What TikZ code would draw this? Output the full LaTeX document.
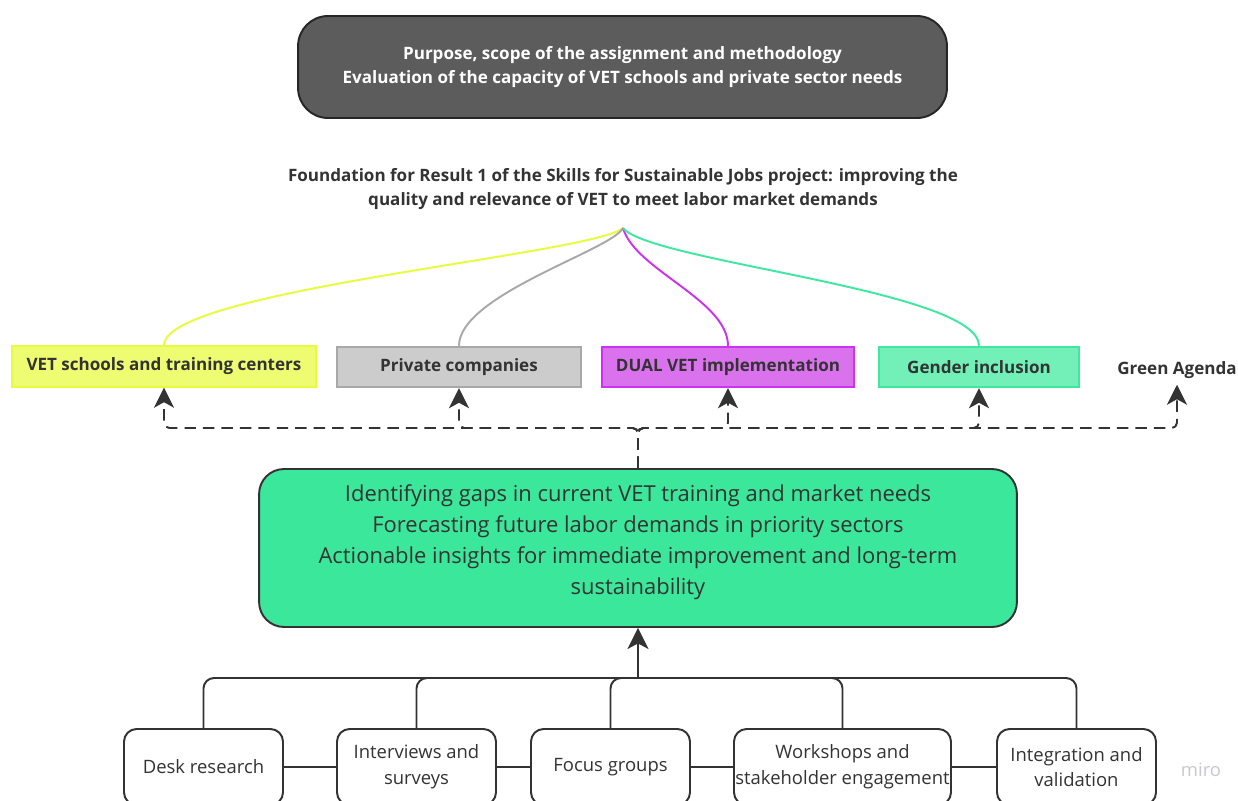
\documentclass[tikz,border=0pt]{standalone}
\usepackage{fontspec}
\setmainfont{Open Sans}
\usetikzlibrary{arrows.meta,positioning,calc}
\definecolor{Ink}{HTML}{333333}
\definecolor{Slate}{HTML}{5C5C5C}
\definecolor{Lime}{HTML}{EEFC72}
\definecolor{LimeRule}{HTML}{E6FC3C}
\definecolor{Stone}{HTML}{CCCCCC}
\definecolor{StoneRule}{HTML}{A8A8A8}
\definecolor{Orchid}{HTML}{DA72EE}
\definecolor{OrchidRule}{HTML}{CC33EE}
\definecolor{Mint}{HTML}{72F0B8}
\definecolor{MintRule}{HTML}{3EE8A0}
\definecolor{Jade}{HTML}{3BE89B}
\definecolor{Wmark}{HTML}{C8C8D2}
\tikzset{head/.style={draw=black!85,fill=Slate,rounded corners=0.6cm,line width=1.1pt,minimum width=12.98cm,minimum height=2.04cm,align=center,font=\fontsize{9.7}{13.6}\selectfont\bfseries,text=white},
topic/.style={draw=#1Rule,fill=#1,line width=1.1pt,minimum height=0.81cm,font=\fontsize{9.7}{12}\selectfont\bfseries,text=Ink},
lab/.style={align=center,font=\fontsize{9.7}{13.6}\selectfont\bfseries,text=Ink},
goal/.style={draw=Ink,fill=Jade,rounded corners=0.5cm,line width=1.1pt,minimum width=15.16cm,minimum height=3.16cm,align=center,font=\fontsize{12.5}{17.6}\selectfont,text=Ink},
method/.style={draw=Ink,fill=white,rounded corners=0.25cm,line width=1.1pt,minimum height=1.52cm,align=center,inner xsep=0.5pt,font=\fontsize{10.5}{14.7}\selectfont,text=Ink},
wire/.style={line width=1.1pt},
flow/.style={-{Stealth[length=4.2mm,width=4.2mm,inset=1.1mm]},line width=1.6pt,draw=Ink},
dashflow/.style={-{Stealth[length=4mm,width=4mm,inset=1.1mm]},line width=1.1pt,draw=Ink,dash pattern=on 6.5pt off 4pt,rounded corners=3pt}}
\begin{document}
\begin{tikzpicture}[x=0.02cm,y=-0.02cm]
\useasboundingbox (0,0) rectangle (1238,801);
\node[head] (head) at (622.5,67) {Purpose, scope of the assignment and methodology\\Evaluation of the capacity of VET schools and private sector needs};
\node[lab] (found) at (623,189) {Foundation for Result 1 of the Skills for Sustainable Jobs project: improving the\\quality and relevance of VET to meet labor market demands};
\coordinate (fork) at (623,228);
% target groups
\node[topic=Lime,minimum width=6.08cm] (vet) at (164,366.5) {VET schools and training centers};
\node[topic=Stone,minimum width=4.88cm] (priv) at (459,367) {Private companies};
\node[topic=Orchid,minimum width=5.04cm] (dual) at (728,367) {DUAL VET implementation};
\node[topic=Mint,minimum width=4cm] (gend) at (979,367) {Gender inclusion};
\node[lab] (agenda) at (1177,370) {Green Agenda};
\draw[wire,LimeRule] (fork) .. controls (590,255) and (164,290) .. (vet.north);
\draw[wire,StoneRule] (fork) .. controls (612,250) and (459,295) .. (priv.north);
\draw[wire,OrchidRule] (fork) .. controls (635,270) and (728,300) .. (dual.north);
\draw[wire,MintRule] (fork) .. controls (650,262) and (979,290) .. (gend.north);
% outcomes
\node[goal] (goal) at (638,548) {Identifying gaps in current VET training and market needs\\Forecasting future labor demands in priority sectors\\Actionable insights for immediate improvement and long-term\\sustainability\\[-8pt]\mbox{}};
\coordinate (split) at (638,428);
\foreach \t in {vet,priv,dual,gend,agenda}
  \draw[dashflow] (goal.north) -- (split) -| (\t.south);
% methods
\node[method,minimum width=3.18cm] (desk) at (203.5,767) {Desk research};
\node[method,minimum width=3.18cm] (intv) at (416.5,767) {Interviews and\\surveys};
\node[method,minimum width=3.18cm] (focus) at (610.5,767) {Focus groups};
\node[method,minimum width=4.34cm] (work) at (842.5,767) {Workshops and\\stakeholder engagement};
\node[method,minimum width=3.18cm] (integ) at (1076.5,767) {Integration and\\validation};
\coordinate (hub) at (638,678);
\foreach \m in {desk,intv,focus,work,integ}
  \draw[wire,Ink,rounded corners=6pt] (\m.north) |- (hub);
\draw[flow] (hub) -- (goal.south);
\draw[wire,Ink] (desk) -- (intv);\draw[wire,Ink] (intv) -- (focus);\draw[wire,Ink] (focus) -- (work);\draw[wire,Ink] (work) -- (integ);
\node[font=\fontsize{10.5}{12}\selectfont,text=Wmark] (mark) at (1201,770) {miro};
\end{tikzpicture}
\end{document}
